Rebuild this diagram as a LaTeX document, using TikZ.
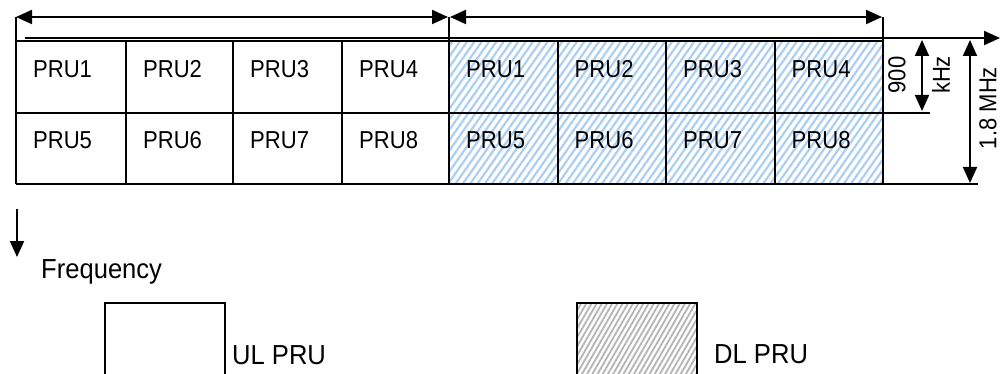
\documentclass[tikz,border=0pt]{standalone}
\usepackage{fontspec}
\setmainfont{Liberation Sans}
\newfontfamily\prufont[FakeStretch=0.9]{Liberation Sans}
\newfontfamily\legfont[FakeStretch=0.93]{Liberation Sans}
\usetikzlibrary{arrows.meta,patterns.meta}
\definecolor{hatchblue}{RGB}{172,206,242}
\definecolor{hatchgray}{RGB}{180,180,180}
\begin{document}
\begin{tikzpicture}[x=1pt,y=-1pt,
  ln/.style={line width=2pt},
  dbl/.style={ln,{Triangle[length=16pt,width=14pt]}-{Triangle[length=16pt,width=14pt]}},
  sgl/.style={ln,-{Triangle[length=16pt,width=14pt]}},
  prutxt/.style={anchor=base west,inner sep=0pt,font=\prufont\fontsize{24.5}{29}\selectfont},
  rottxt/.style={inner sep=0pt,rotate=90,font=\prufont\fontsize{24.5}{29}\selectfont},
  legtxt/.style={anchor=base west,inner sep=0pt,font=\legfont\fontsize{27.5}{32}\selectfont},
  dlhatch/.style={pattern={Lines[angle=55,distance=6pt,line width=2.2pt]},pattern color=hatchblue},
  lghatch/.style={pattern={Lines[angle=60,distance=4.5pt,line width=1.8pt]},pattern color=hatchgray}]
\useasboundingbox (0,0) rectangle (1000,374);
\fill[white] (0,0) rectangle (1000,374);

% hatched DL area
\path[dlhatch] (449,41) rectangle (883,184);

% table grid
\draw[ln] (16,41) -- (883,41);
\draw[ln] (16,113) -- (930,113);
\draw[ln] (16,184) -- (978,184);
\foreach \x in {126,233,342,557.5,666,774.5}{
  \draw[ln] (\x,41) -- (\x,184);
}
\draw[ln] (16,17) -- (16,184);
\draw[ln] (449,17) -- (449,184);
\draw[ln] (883,17) -- (883,184);

% labels in cells
\foreach \x/\n in {16/1,126/2,233/3,342/4,449/1,557.5/2,666/3,774.5/4}{
  \node[prutxt] at (\x+17,78) {PRU\n};
}
\foreach \x/\n in {16/5,126/6,233/7,342/8,449/5,557.5/6,666/7,774.5/8}{
  \node[prutxt] at (\x+17,148.5) {PRU\n};
}

% top span arrows
\coordinate (a1) at (16,17);
\coordinate (a2) at (448,17);
\coordinate (b1) at (450,17);
\coordinate (b2) at (882,17);
\draw[dbl] (a1) -- (a2);
\draw[dbl] (b1) -- (b2);

% time axis
\coordinate (t1) at (25,38);
\coordinate (t2) at (1000,38);
\draw[sgl] (t1) -- (t2);

% 900 kHz
\coordinate (k1) at (922,40);
\coordinate (k2) at (922,111);
\draw[dbl] (k1) -- (k2);
\node[rottxt] (n900) at (897,75) {900};
\node[rottxt] (nkhz) at (941,75) {kHz};

% 1.8 MHz
\coordinate (m1) at (970,40);
\coordinate (m2) at (970,183);
\draw[dbl] (m1) -- (m2);
\node[rottxt] (nmhz) at (988,108) {1.8 MHz};

% frequency arrow
\coordinate (f1) at (17,209);
\coordinate (f2) at (17,257);
\draw[sgl] (f1) -- (f2);
\node[legtxt] (freq) at (41,278) {Frequency};

% legend
\draw[ln,fill=white] (105,303) rectangle (225,385);
\node[legtxt] (ul) at (232,364) {UL PRU};
\fill[white] (577,303) rectangle (697,385);
\path[lghatch] (577,303) rectangle (697,385);
\draw[ln] (577,303) rectangle (697,385);
\node[legtxt] (dl) at (714,363) {DL PRU};
\end{tikzpicture}
\end{document}
